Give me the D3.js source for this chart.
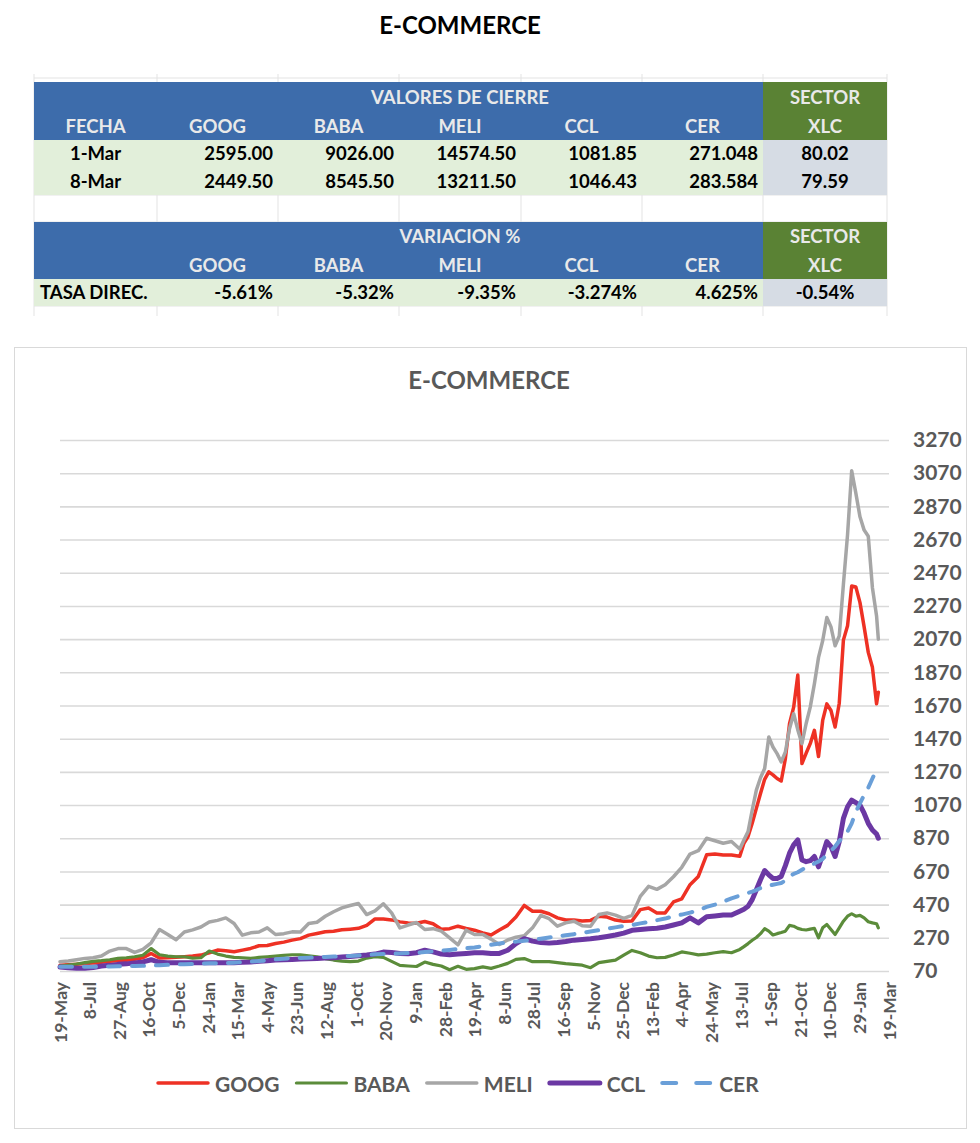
<!DOCTYPE html>
<html><head><meta charset="utf-8">
<script src="https://cdn.jsdelivr.net/npm/d3@7"></script>
<style>
html,body{margin:0;padding:0;background:#fff;}
svg{display:block;font-family:Lato,"Open Sans","Liberation Sans",sans-serif;}
</style></head><body>
<svg id="c" width="980" height="1143"></svg>
<script>
// ---------- table data ----------
const tableHeaders = ["FECHA","GOOG","BABA","MELI","CCL","CER"];
const sectorName = "XLC";
const closeRows = [
  ["1-Mar","2595.00","9026.00","14574.50","1081.85","271.048","80.02"],
  ["8-Mar","2449.50","8545.50","13211.50","1046.43","283.584","79.59"]
];
const varRow = ["TASA DIREC.","-5.61%","-5.32%","-9.35%","-3.274%","4.625%","-0.54%"];

// ---------- chart data ----------
const dates = ["2020-05-19","2020-06-02","2020-06-16","2020-06-30","2020-07-14","2020-07-28","2020-08-11","2020-08-25","2020-09-08","2020-09-22","2020-10-06","2020-10-20","2020-11-03","2020-11-17","2020-12-01","2020-12-15","2020-12-29",
"2021-01-12","2021-01-26","2021-02-09","2021-02-23","2021-03-09","2021-03-23","2021-04-06","2021-04-20","2021-05-04","2021-05-18","2021-06-01","2021-06-15","2021-06-29","2021-07-13","2021-07-27","2021-08-10","2021-08-24","2021-09-07","2021-09-21","2021-10-05","2021-10-19","2021-11-02","2021-11-16","2021-11-30","2021-12-14","2021-12-28",
"2022-01-11","2022-01-25","2022-02-08","2022-02-22","2022-03-08","2022-03-22","2022-04-05","2022-04-19","2022-05-03","2022-05-17","2022-05-31","2022-06-14","2022-06-28","2022-07-12","2022-07-26","2022-08-09","2022-08-23","2022-09-06","2022-09-20","2022-10-04","2022-10-18","2022-11-01","2022-11-15","2022-11-29","2022-12-13","2022-12-27",
"2023-01-10","2023-01-24","2023-02-07","2023-02-21","2023-03-07","2023-03-21","2023-04-04","2023-04-18","2023-05-02","2023-05-16","2023-05-30","2023-06-13","2023-06-27","2023-07-11",
"2023-07-18","2023-07-25","2023-08-01","2023-08-08","2023-08-15","2023-08-22","2023-08-29","2023-09-05","2023-09-12","2023-09-19","2023-09-26","2023-10-03","2023-10-10","2023-10-17","2023-10-24","2023-10-31","2023-11-07","2023-11-14","2023-11-21","2023-11-28","2023-12-05","2023-12-12","2023-12-19","2023-12-26",
"2024-01-02","2024-01-09","2024-01-16","2024-01-23","2024-01-30","2024-02-06","2024-02-13","2024-02-20","2024-02-27","2024-03-01"];

const goog = [105,108,110,115,118,122,128,132,135,140,
150,176,148,150,153,156,160,166,180,196,
192,186,196,206,222,224,236,244,256,265,
286,296,306,310,318,322,327,345,384,384,
378,366,360,358,368,355,322,325,340,327,
316,300,287,317,345,395,465,430,430,415,
390,377,377,372,375,400,395,377,370,372,
440,450,420,420,486,505,590,640,770,775,
769,769,762,840,880,960,1050,1140,1225,1270,
1252,1230,1215,1350,1560,1660,1854,1320,1382,1440,
1520,1362,1580,1680,1640,1540,1684,2064,2150,2390,
2385,2290,2144,1990,1900,1680,1750];

const baba = [100,105,112,120,128,132,138,146,150,156,
165,205,168,160,156,156,148,150,190,172,
160,152,150,146,152,156,160,164,168,168,
162,156,145,136,130,126,130,148,156,152,
128,104,100,97,124,110,100,78,98,80,
84,95,86,100,116,140,145,126,126,126,
120,114,110,105,90,120,128,136,166,194,
180,160,150,152,166,185,177,167,172,180,
187,180,200,217,235,255,272,295,325,310,
287,295,302,310,345,340,327,320,317,322,
327,270,330,350,320,290,330,370,400,415,
400,405,390,367,360,355,330];

const meli = [126,130,138,146,150,160,190,205,205,182,
200,240,320,290,258,305,318,335,365,375,
390,356,286,300,305,330,290,295,306,305,
356,364,400,427,450,465,477,410,432,475,
420,330,347,362,320,325,310,270,228,316,
290,290,262,230,257,274,282,330,405,385,
340,360,370,343,340,410,420,407,387,405,
520,580,562,590,638,695,775,795,870,855,
840,850,805,860,910,1040,1160,1235,1290,1480,
1420,1380,1330,1390,1530,1620,1523,1440,1560,1660,
1800,1960,2060,2200,2144,2030,2090,2400,2700,3085,
2950,2807,2727,2690,2380,2210,2070];

const ccl = [94,90,87,87,91,100,104,110,113,119,
125,138,122,120,120,120,120,120,120,120,
120,120,122,124,128,132,136,138,140,142,
144,146,148,150,154,158,162,166,172,184,
182,176,174,180,195,185,172,168,172,176,
180,180,176,176,195,235,265,250,242,238,
242,248,256,260,264,270,278,287,298,315,
320,324,328,335,347,360,390,360,397,402,
407,407,430,442,460,500,560,620,675,650,
628,628,640,705,780,830,860,739,729,735,
760,698,770,850,820,760,850,990,1060,1100,
1085,1070,1021,960,920,895,870];

const cer = [95,95,95,95,95,96,97,98,100,100,
101,103,105,107,109,111,113,115,116,117,
118,120,123,126,130,134,140,144,147,149,
150,152,155,157,159,161,164,167,171,173,
175,176,178,180,184,188,192,197,203,208,
212,220,228,236,242,247,252,257,264,272,
278,285,292,300,308,316,325,333,342,347,
357,365,376,386,400,410,422,435,456,470,
488,508,524,532,540,548,558,570,578,584,
590,595,600,615,640,655,665,680,694,705,
718,730,745,772,795,820,853,880,910,960,
1030,1080,1130,1175,1230,1282,1290];

const xTickDates = ["2020-05-19","2020-07-08","2020-08-27","2020-10-16","2020-12-05","2021-01-24","2021-03-15","2021-05-04","2021-06-23","2021-08-12","2021-10-01","2021-11-20","2022-01-09","2022-02-28","2022-04-19","2022-06-08","2022-07-28","2022-09-16","2022-11-05","2022-12-25","2023-02-13","2023-04-04","2023-05-24","2023-07-13","2023-09-01","2023-10-21","2023-12-10","2024-01-29","2024-03-19"];
const yTicks = [70,270,470,670,870,1070,1270,1470,1670,1870,2070,2270,2470,2670,2870,3070,3270];

const seriesNames = ["GOOG","BABA","MELI","CCL","CER"];
const seriesValues = [goog, baba, meli, ccl, cer];

// ---------- drawing ----------
const svg = d3.select("#c");
const textGray = "#595959";

// page title
svg.append("text").attr("x",460).attr("y",34).attr("text-anchor","middle")
  .attr("font-size",24).attr("font-weight",700).attr("fill","#000").text("E-COMMERCE");

// table
const colX = [34,157,278,399,521,642,763,887];
const blue = "#3D6CAB", green = "#5A8234", lightGreen = "#E2EFDA", grayBlue = "#D6DCE4", hdrText = "#E9E9E9";
const tbl = svg.append("g");
colX.forEach(cx => tbl.append("line").attr("x1",cx).attr("x2",cx).attr("y1",74).attr("y2",316).attr("stroke","#E3E3E3").attr("stroke-width",1));
[78,195,222,306].forEach(yy => tbl.append("line").attr("x1",34).attr("x2",887).attr("y1",yy).attr("y2",yy).attr("stroke","#E3E3E3"));
function fillRect(x0,x1,y0,y1,c){ tbl.append("rect").attr("x",x0).attr("y",y0).attr("width",x1-x0).attr("height",y1-y0).attr("fill",c); }
fillRect(colX[0],colX[6],82,140,blue); fillRect(colX[6],colX[7],82,140,green);
fillRect(colX[0],colX[6],222,279,blue); fillRect(colX[6],colX[7],222,279,green);
fillRect(colX[0],colX[6],140,195,lightGreen); fillRect(colX[6],colX[7],140,195,grayBlue);
fillRect(colX[0],colX[6],279,306,lightGreen); fillRect(colX[6],colX[7],279,306,grayBlue);
function txt(x,y,s,anchor,color){ tbl.append("text").attr("x",x).attr("y",y).attr("text-anchor",anchor).attr("dominant-baseline","central")
  .attr("font-size",18.5).attr("font-weight",700).attr("fill",color).text(s); }
const cc = i => (colX[i]+colX[i+1])/2;
txt((colX[1]+colX[6])/2, 97, "VALORES DE CIERRE", "middle", hdrText);
txt(cc(6), 97, "SECTOR", "middle", hdrText);
tableHeaders.forEach((h,i)=> txt(cc(i), 126, h, "middle", hdrText));
txt(cc(6), 126, sectorName, "middle", hdrText);
closeRows.forEach((r,ri)=>{
  const yy = ri===0 ? 153 : 181;
  r.forEach((v,i)=>{
    if(i===0) txt(cc(0), yy, v, "middle", "#000");
    else if(i===6) txt(cc(6), yy, v, "middle", "#000");
    else txt(colX[i+1]-5, yy, v, "end", "#000");
  });
});
txt((colX[1]+colX[6])/2, 236, "VARIACION %", "middle", hdrText);
txt(cc(6), 236, "SECTOR", "middle", hdrText);
tableHeaders.forEach((h,i)=> { if(i>0) txt(cc(i), 265, h, "middle", hdrText); });
txt(cc(6), 265, sectorName, "middle", hdrText);
varRow.forEach((v,i)=>{
  if(i===0) txt(40, 292, v, "start", "#000");
  else if(i===6) txt(cc(6), 292, v, "middle", "#000");
  else txt(colX[i+1]-5, 292, v, "end", "#000");
});

// chart frame
svg.append("rect").attr("x",14.5).attr("y",347.5).attr("width",952).attr("height",781)
  .attr("fill","#fff").attr("stroke","#D9D9D9").attr("stroke-width",1);
svg.append("text").attr("x",489).attr("y",389).attr("text-anchor","middle")
  .attr("font-size",24).attr("font-weight",700).attr("fill",textGray).text("E-COMMERCE");

const parse = d3.timeParse("%Y-%m-%d");
const x = d3.scaleTime().domain([parse("2020-05-19"), parse("2024-03-19")]).range([60, 889]);
const y = d3.scaleLinear().domain([70, 3270]).range([971, 440]);

// y axis (right) with gridlines
const yAx = svg.append("g").attr("transform","translate(889,0)")
  .call(d3.axisRight(y).tickValues(yTicks).tickSize(-829).tickPadding(24).tickFormat(d3.format("d")));
yAx.select(".domain").remove();
yAx.selectAll(".tick line").attr("stroke","#D9D9D9").attr("stroke-width",1.6);
yAx.selectAll(".tick text").attr("font-size",21).attr("font-weight",700).attr("fill",textGray)
  .attr("font-family","Lato,'Open Sans',sans-serif");

// x axis
const xAx = svg.append("g").attr("transform","translate(0,971)")
  .call(d3.axisBottom(x).tickValues(xTickDates.map(parse)).tickSize(0).tickFormat(d3.timeFormat("%-d-%b")));
xAx.select(".domain").remove();
xAx.selectAll(".tick text").attr("transform","rotate(-90)").attr("text-anchor","end")
  .attr("x",-11).attr("y",0).attr("dy","0.35em")
  .attr("font-size",17.5).attr("font-weight",700).attr("fill",textGray)
  .attr("font-family","Lato,'Open Sans',sans-serif");

// lines
const styles = {
  GOOG:{color:"#EE3124", width:3.5, dash:null},
  BABA:{color:"#5B8C3A", width:3.2, dash:null},
  MELI:{color:"#A6A6A6", width:3.5, dash:null},
  CCL:{color:"#6B38A3", width:5, dash:null},
  CER:{color:"#6A9FD8", width:4, dash:"12,12"}
};
const line = d3.line().x(d=>x(d.date)).y(d=>y(d.v));
const parsedDates = dates.map(parse);
seriesNames.forEach((name,si)=>{
  const data = seriesValues[si].map((v,i)=>({date:parsedDates[i], v}));
  const st = styles[name];
  svg.append("path").datum(data).attr("d",line).attr("fill","none")
    .attr("stroke",st.color).attr("stroke-width",st.width)
    .attr("stroke-linejoin","round").attr("stroke-linecap","round")
    .attr("stroke-dasharray",st.dash);
});

// legend
const leg = svg.append("g");
let lx = 156; const ly = 1083;
seriesNames.forEach(name=>{
  const st = styles[name];
  leg.append("line").attr("x1",lx+2).attr("x2",lx+52).attr("y1",ly).attr("y2",ly)
    .attr("stroke",st.color).attr("stroke-width",st.width)
    .attr("stroke-linecap","round").attr("stroke-dasharray",st.dash ? "14,20" : null);
  const t = leg.append("text").attr("x",lx+59).attr("y",ly).attr("dominant-baseline","central")
    .attr("font-size",21).attr("font-weight",700).attr("fill",textGray).text(name);
  lx += 59 + t.node().getComputedTextLength() + 15;
});
</script>
</body></html>
